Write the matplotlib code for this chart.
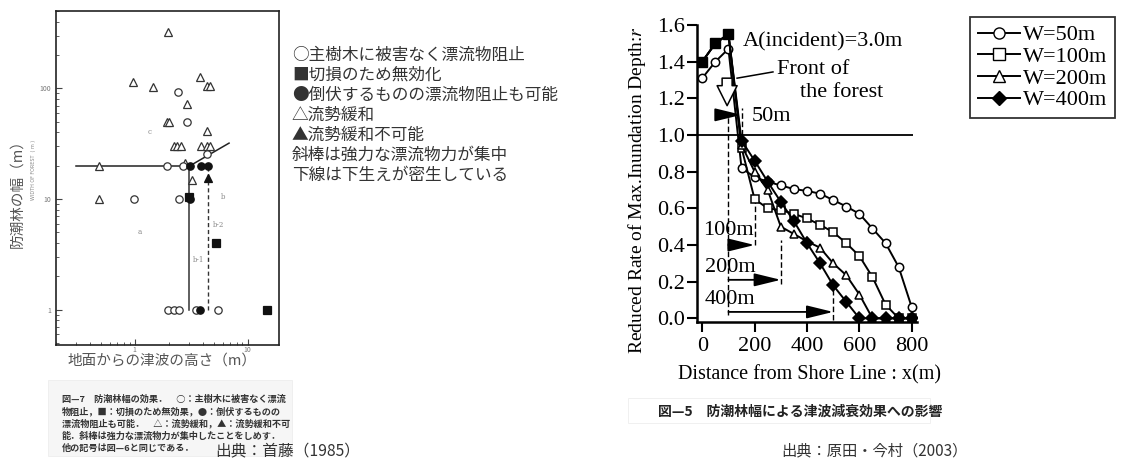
import matplotlib.pyplot as plt
from matplotlib.patches import Rectangle
from matplotlib.lines import Line2D

plt.rcParams['font.family'] = ['Noto Sans CJK JP', 'DejaVu Sans']
plt.rcParams['mathtext.fontset'] = 'stix'

# ---------------- left chart (首藤 1985): width of forest vs tsunami height ----------------
open_tri_x = [1.96, 0.96, 1.45, 3.78, 4.37, 4.64, 2.9, 1.92, 2.0, 4.37,
              2.22, 2.36, 2.56, 3.86, 4.37, 4.64, 0.48, 2.8, 3.21, 0.48]
open_tri_y = [326, 113, 102, 126, 104, 104, 72, 50, 50, 41,
              30, 30, 30, 30, 30, 30, 20, 21, 15, 10]
open_cir_x = [2.41, 2.9, 1.92, 2.65, 4.37, 0.98, 2.46, 1.96, 2.22, 2.46, 3.48, 5.47]
open_cir_y = [92, 50, 20, 20, 25.4, 10, 10, 1, 1, 1, 1, 1]
fill_cir_x = [3.08, 3.86, 4.46, 3.1, 3.78]
fill_cir_y = [20, 20, 20, 10, 1]
fill_tri_x = [4.46]
fill_tri_y = [15.5]
fill_sq_x = [3.0, 5.25, 14.9]
fill_sq_y = [10.5, 4.0, 1.0]

# boundary lines
line_a_x, line_a_y = [0.3, 3.0], [20, 20]
line_slant_x, line_slant_y = [2.96, 6.85], [19.5, 32]
line_b1_x, line_b1_y = [3.0, 3.0], [1, 20]
line_b2_x, line_b2_y = [4.5, 4.5], [1, 20]

# region labels
region_labels = ['c', 'a', 'b', 'b-2', 'b-1']
region_x = [1.36, 1.11, 6.06, 5.5, 3.7]
region_y = [40, 5.0, 10.4, 5.8, 2.8]

legend_lines = ['○主樹木に被害なく漂流物阻止',
                '■切損のため無効化',
                '●倒伏するものの漂流物阻止も可能',
                '△流勢緩和',
                '▲流勢緩和不可能',
                '斜棒は強力な漂流物力が集中',
                '下線は下生えが密生している']

caption_left = ['図—7　防潮林幅の効果．　○：主樹木に被害なく漂流',
                '物阻止，■：切損のため無効果，●：倒伏するものの',
                '漂流物阻止も可能．　△：流勢緩和，▲：流勢緩和不可',
                '能．斜棒は強力な漂流物力が集中したことをしめす．',
                '他の記号は図—6と同じである．']

# ---------------- right chart (原田・今村 2003) ----------------
dist = [0, 50, 100, 150, 200, 250, 300, 350, 400, 450, 500, 550, 600, 650, 700, 750, 800]
r_w50 = [1.31, 1.40, 1.47, 0.82, 0.77, 0.745, 0.725, 0.705, 0.695, 0.68, 0.645,
         0.61, 0.57, 0.49, 0.41, 0.28, 0.06]
r_w100 = [1.40, 1.50, 1.55, 0.93, 0.65, 0.60, 0.59, 0.57, 0.545, 0.51, 0.47,
          0.41, 0.34, 0.225, 0.075, 0.0, 0.0]
r_w200 = [1.40, 1.50, 1.55, 0.945, 0.80, 0.70, 0.50, 0.46, 0.42, 0.385, 0.30,
          0.235, 0.13, 0.0, 0.0, 0.0, 0.0]
r_w400 = [1.40, 1.50, 1.55, 0.97, 0.86, 0.745, 0.635, 0.53, 0.41, 0.30, 0.18,
          0.09, 0.0, 0.0, 0.0, 0.0, 0.0]
series_labels = ['W=50m', 'W=100m', 'W=200m', 'W=400m']

front_x = 100
widths = [50, 100, 200, 400]
width_labels = ['50m', '100m', '200m', '400m']

W, H = 1121, 462
fig = plt.figure(figsize=(W / 100, H / 100), dpi=100)


def fx(x):
    return x / W


def fy(y):
    return 1 - y / H


# ---- left axes ----
axL = fig.add_axes([fx(56), fy(345), fx(279) - fx(56), fy(11) - fy(345)])
axL.set_xscale('log')
axL.set_yscale('log')
axL.set_xlim(0.2, 19)
axL.set_ylim(0.48, 500)
mk = dict(linestyle='none', markersize=5.3, markeredgewidth=0.9)
axL.plot(open_tri_x, open_tri_y, marker='^', mfc='white', mec='#333', **mk)
axL.plot(open_cir_x, open_cir_y, marker='o', mfc='white', mec='#333', **mk)
axL.plot(fill_cir_x, fill_cir_y, marker='o', mfc='#111', mec='#111', **mk)
axL.plot(fill_tri_x, fill_tri_y, marker='^', mfc='#111', mec='#111', **mk)
axL.plot(fill_sq_x, fill_sq_y, marker='s', mfc='#111', mec='#111', **mk)
axL.plot(line_a_x, line_a_y, color='#222', lw=1.1, zorder=1)
axL.plot(line_slant_x, line_slant_y, color='#222', lw=1.1, zorder=1)
axL.plot(line_b1_x, line_b1_y, color='#333', lw=1.1, zorder=1)
axL.plot(line_b2_x, line_b2_y, color='#333', lw=1.0, ls=(0, (3, 2)), zorder=1)
for lab, x, y in zip(region_labels, region_x, region_y):
    axL.text(x, y, lab, fontsize=5, color='#888', family='DejaVu Serif',
             ha='center', va='center')
axL.set_xticks([1, 10])
axL.set_xticklabels(['1', '10'])
axL.set_yticks([1, 10, 100])
axL.set_yticklabels(['1', '10', '100'])
axL.tick_params(which='both', direction='in', labelsize=5, labelcolor='#777',
                color='#444', top=False, right=False)
axL.tick_params(which='major', length=4)
axL.tick_params(which='minor', length=2.5)
axL.tick_params(axis='x', pad=0.5)
for s in axL.spines.values():
    s.set_linewidth(1.2)
    s.set_color('#222')

fig.text(fx(17), fy(190), '防潮林の幅（m）', rotation=90, fontsize=10.5,
         color='#555', ha='center', va='center')
fig.text(fx(34), fy(170), 'WIDTH OF FOREST  ( m )', rotation=90, fontsize=3.5,
         color='#888', ha='center', va='center', family='DejaVu Sans')
fig.text(fx(162), fy(361), '地面からの津波の高さ（m）', fontsize=10.5,
         color='#555', ha='center', va='center')

# left caption
fig.patches.append(Rectangle((fx(48), fy(456)), fx(292) - fx(48), fy(380) - fy(456),
                             transform=fig.transFigure, fc='#f6f6f6', ec='#eeeeee', lw=0.6))
for i, line in enumerate(caption_left):
    fig.text(fx(62), fy(399 + i * 12.3), line, fontsize=6.6, color='#333',
             ha='left', va='center', fontweight='bold')
fig.text(fx(288), fy(452), '出典：首藤（1985）', fontsize=11.3, color='#333',
         ha='center', va='center')

# middle legend text
for i, line in enumerate(legend_lines):
    fig.text(fx(292), fy(55 + i * 20), line, fontsize=12, color='#333',
             ha='left', va='center')

# ---- right axes ----
serif = 'Liberation Serif'
axR = fig.add_axes([fx(697), fy(322), fx(917) - fx(697), fy(25) - fy(322)])
axR.set_xlim(-20, 820)
axR.set_ylim(-0.02, 1.6)
axR.hlines(1.0, -20, 805, color='k', lw=1.3, zorder=1)
lk = dict(color='k', lw=1.4, markersize=6, markeredgewidth=1.1, zorder=3)
axR.plot(dist, r_w50, marker='o', mfc='white', mec='k', **lk)
axR.plot(dist, r_w100, marker='s', mfc='white', mec='k', markevery=slice(3, None), **lk)
axR.plot(dist, r_w200, marker='^', mfc='white', mec='k', markevery=slice(3, None), **lk)
axR.plot(dist, r_w400, marker='D', mfc='k', mec='k', markevery=slice(3, None), **lk)
# shared points upstream of the forest
axR.plot(dist[:3], r_w400[:3], marker='s', mfc='k', mec='k', ls='none',
         markersize=7, zorder=4)

# forest width annotations
axR.vlines(front_x, 0.02, 1.10, color='k', lw=1.0, ls=(0, (4, 2)), zorder=2)
dim_y = [1.11, 0.40, 0.21, 0.035]
dim_top = [1.15, 0.64, 0.43, 0.17]
dim_bot = [1.00, 0.40, 0.19, -0.01]
text_xy = [(190, 1.10), (4, 0.48), (11, 0.28), (11, 0.10)]
for w, lab, yy, yt, yb, (tx, ty) in zip(widths, width_labels, dim_y, dim_top, dim_bot, text_xy):
    axR.vlines(front_x + w, yb, yt, color='k', lw=1.0, ls=(0, (4, 2)), zorder=2)
    axR.annotate('', xy=(front_x + w, yy), xytext=(front_x, yy),
                 arrowprops=dict(arrowstyle='-|>,head_length=0.9,head_width=0.22',
                                 color='k', lw=1.3, mutation_scale=18,
                                 shrinkA=0, shrinkB=0), zorder=5)
    axR.text(tx, ty, lab, fontsize=16, family=serif, ha='left', va='center')

axR.text(156, 1.51, 'A(incident)=3.0m', fontsize=16, family=serif, ha='left', va='center')
axR.text(286, 1.355, 'Front of', fontsize=16, family=serif, ha='left', va='center')
axR.text(373, 1.23, 'the forest', fontsize=16, family=serif, ha='left', va='center')
axR.plot([133, 270], [1.31, 1.344], color='k', lw=1.1, zorder=5)
axR.annotate('', xy=(95, 1.16), xytext=(95, 1.31),
             arrowprops=dict(arrowstyle='simple,head_length=0.9,head_width=0.9,tail_width=0.45',
                             fc='white', ec='k', lw=1.1, mutation_scale=16,
                             shrinkA=0, shrinkB=0), zorder=6)

axR.set_xticks([0, 200, 400, 600, 800])
axR.set_yticks([0.0, 0.2, 0.4, 0.6, 0.8, 1.0, 1.2, 1.4, 1.6])
axR.set_yticklabels(['%.1f' % v for v in axR.get_yticks()])
axR.tick_params(direction='out', length=7, width=1.5, labelsize=16, pad=1.5)
for lbl in axR.get_xticklabels() + axR.get_yticklabels():
    lbl.set_family(serif)
axR.tick_params(axis='x', pad=4)
axR.spines['top'].set_visible(False)
axR.spines['right'].set_visible(False)
axR.spines['left'].set_linewidth(1.8)
axR.spines['bottom'].set_linewidth(1.8)

fig.text(fx(637), fy(190), 'Reduced Rate of Max.Inundation Depth:$r$', rotation=90,
         fontsize=14, family=serif, ha='center', va='center')
fig.text(fx(809), fy(375), 'Distance from Shore Line : x(m)', fontsize=14.5,
         family=serif, ha='center', va='center')

handles = [Line2D([], [], color='k', lw=1.4, marker='o', mfc='white', mec='k', markersize=8),
           Line2D([], [], color='k', lw=1.4, marker='s', mfc='white', mec='k', markersize=8),
           Line2D([], [], color='k', lw=1.4, marker='^', mfc='white', mec='k', markersize=8),
           Line2D([], [], color='k', lw=1.4, marker='D', mfc='k', mec='k', markersize=7)]
leg = fig.legend(handles, series_labels, loc='upper left', bbox_to_anchor=(fx(970), fy(17)),
                 prop={'family': serif, 'size': 16}, frameon=True, fancybox=False,
                 edgecolor='k', borderpad=0.35, labelspacing=0.05, handlelength=1.9,
                 handletextpad=0.15, borderaxespad=0)
leg.get_frame().set_linewidth(1.3)

# right caption
fig.patches.append(Rectangle((fx(628), fy(423)), fx(930) - fx(628), fy(398) - fy(423),
                             transform=fig.transFigure, fc='white', ec='#eeeeee', lw=0.6))
fig.text(fx(658), fy(412), '図—5　防潮林幅による津波減衰効果への影響', fontsize=10,
         color='#222', ha='left', va='center', fontweight='bold')
fig.text(fx(874), fy(451), '出典：原田・今村（2003）', fontsize=11, color='#333',
         ha='center', va='center')

fig.savefig('out.png', dpi=100, facecolor='white')
